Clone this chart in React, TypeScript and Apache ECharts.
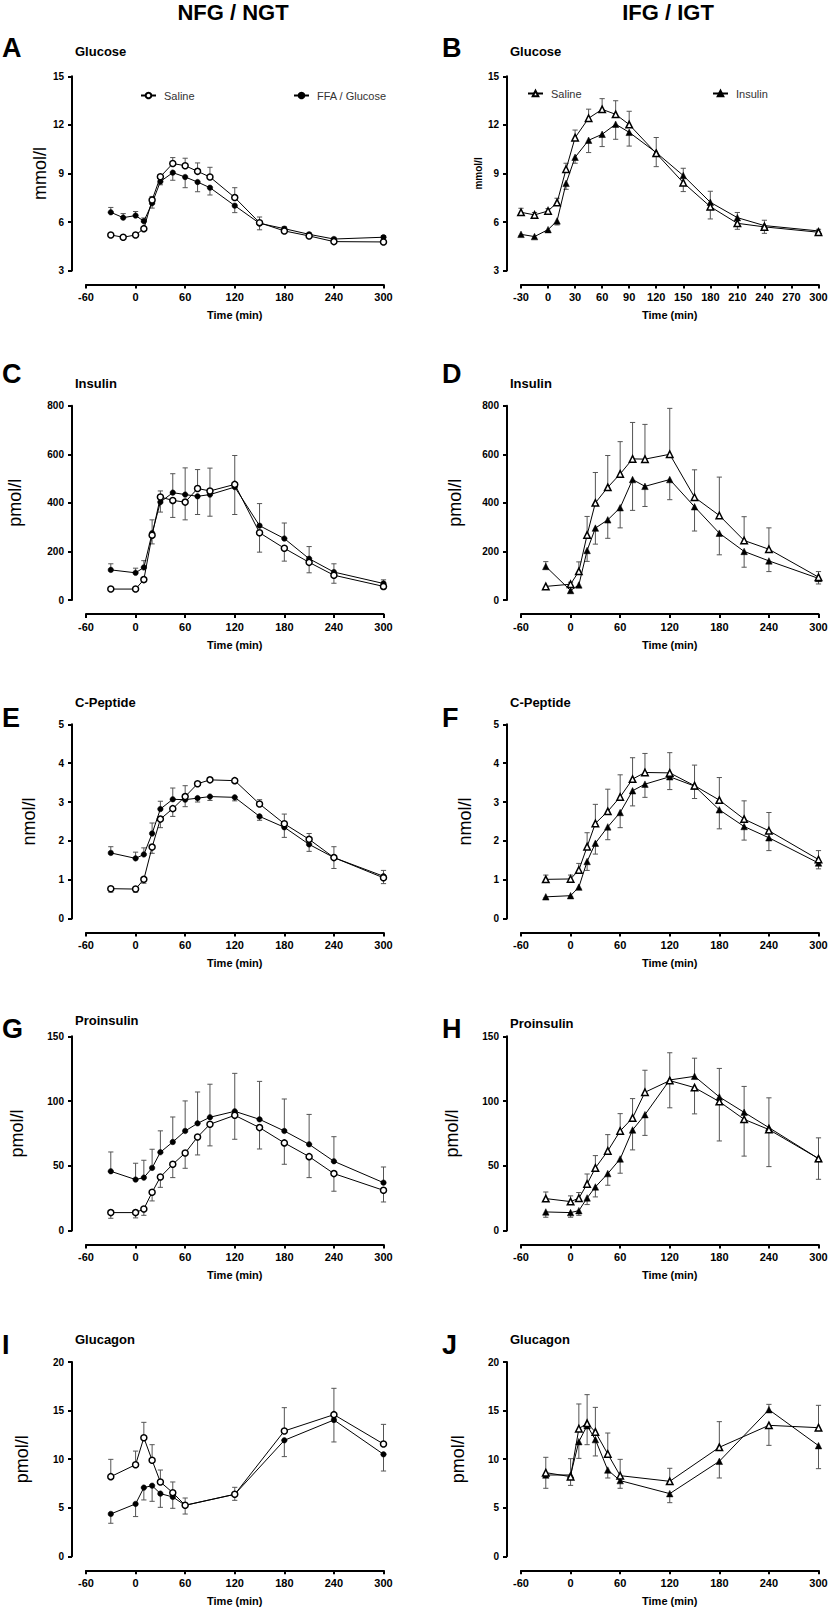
import React, { useEffect, useRef } from "react";
import * as echarts from "echarts";

// ---------- time points (min) ----------
const timeGlucose = [-30, -15, 0, 10, 20, 30, 45, 60, 75, 90, 120, 150, 180, 210, 240, 300];
const timeMain = [-30, 0, 10, 20, 30, 45, 60, 75, 90, 120, 150, 180, 210, 240, 300];
const timeGlucagon = [-30, 0, 10, 20, 30, 45, 60, 120, 180, 240, 300];

// ---------- tick labels ----------
const xTicks60 = [-60, 0, 60, 120, 180, 240, 300];
const xTicks30 = [-30, 0, 30, 60, 90, 120, 150, 180, 210, 240, 270, 300];
const yTicksGlucose = [3, 6, 9, 12, 15];
const yTicksInsulin = [0, 200, 400, 600, 800];
const yTicksCPeptide = [0, 1, 2, 3, 4, 5];
const yTicksProinsulin = [0, 50, 100, 150];
const yTicksGlucagon = [0, 5, 10, 15, 20];

// ---------- A: glucose NFG/NGT ----------
const glucNgtSaline = [5.2, 5.06, 5.2, 5.59, 7.36, 8.8, 9.61, 9.48, 9.13, 8.78, 7.51, 5.96, 5.45, 5.14, 4.79, 4.77];
const glucNgtSalineSem = [0.1, 0.1, 0.1, 0.1, 0.22, 0.12, 0.37, 0.46, 0.52, 0.6, 0.61, 0.35, 0.12, 0.1, 0.1, 0.1];
const glucNgtFfa = [6.6, 6.27, 6.4, 6.05, 7.16, 8.5, 9.05, 8.78, 8.47, 8.12, 7.01, 5.92, 5.59, 5.24, 4.95, 5.06];
const glucNgtFfaSem = [0.3, 0.25, 0.25, 0.2, 0.3, 0.2, 0.47, 0.66, 0.6, 0.45, 0.43, 0.4, 0.12, 0.1, 0.1, 0.1];

// ---------- B: glucose IFG/IGT ----------
const glucIgtSaline = [6.6, 6.44, 6.68, 7.2, 9.26, 11.21, 12.41, 12.96, 12.65, 12.02, 10.24, 8.43, 6.95, 5.92, 5.7, 5.37];
const glucIgtSalineSem = [0.25, 0.15, 0.15, 0.27, 0.37, 0.47, 0.56, 0.66, 0.84, 0.82, 0.82, 0.55, 0.76, 0.37, 0.4, 0.1];
const glucIgtIns = [5.24, 5.1, 5.53, 6.07, 8.39, 10.0, 11.05, 11.42, 12.04, 11.54, 10.29, 8.87, 7.22, 6.27, 5.78, 5.45];
const glucIgtInsSem = [0.1, 0.1, 0.1, 0.25, 0.37, 0.37, 0.76, 0.76, 0.93, 0.85, 0.93, 0.45, 0.68, 0.32, 0.33, 0.1];

// ---------- C: insulin NFG/NGT ----------
const insNgtSaline = [45, 45, 84, 267, 424, 410, 403, 459, 449, 476, 277, 213, 155, 102, 56];
const insNgtSalineSem = [5, 5, 10, 36, 25, 70, 73, 78, 94, 119, 80, 53, 43, 33, 11];
const insNgtFfa = [124, 112, 134, 275, 403, 442, 434, 427, 434, 465, 306, 253, 170, 115, 68];
const insNgtFfaSem = [25, 19, 28, 55, 41, 78, 110, 75, 89, 113, 91, 64, 50, 34, 15];

// ---------- D: insulin IFG/IGT ----------
const insIgtSaline = [56, 65, 118, 268, 400, 464, 519, 581, 580, 600, 423, 348, 245, 209, 94];
const insIgtSalineSem = [8, 8, 39, 76, 125, 131, 133, 150, 143, 189, 113, 158, 98, 88, 23];
const insIgtIns = [138, 39, 62, 204, 296, 330, 380, 496, 468, 496, 384, 275, 200, 161, 89];
const insIgtInsSem = [20, 10, 10, 45, 66, 76, 83, 127, 83, 83, 100, 89, 65, 44, 23];

// ---------- E: C-peptide NFG/NGT ----------
const cpNgtSaline = [0.77, 0.76, 1.01, 1.84, 2.56, 2.83, 3.14, 3.47, 3.57, 3.55, 2.95, 2.44, 2.04, 1.57, 1.05];
const cpNgtSalineSem = [0.09, 0.08, 0.1, 0.16, 0.22, 0.2, 0.28, 0.05, 0.05, 0.05, 0.11, 0.25, 0.15, 0.28, 0.15];
const cpNgtFfa = [1.69, 1.55, 1.65, 2.19, 2.82, 3.07, 3.06, 3.1, 3.14, 3.12, 2.63, 2.35, 1.91, 1.57, 1.09];
const cpNgtFfaSem = [0.16, 0.16, 0.17, 0.27, 0.2, 0.29, 0.18, 0.1, 0.1, 0.09, 0.1, 0.26, 0.18, 0.28, 0.15];

// ---------- F: C-peptide IFG/IGT ----------
const cpIgtSaline = [1.01, 1.02, 1.25, 1.85, 2.45, 2.76, 3.13, 3.59, 3.76, 3.75, 3.42, 3.05, 2.56, 2.26, 1.52];
const cpIgtSalineSem = [0.11, 0.1, 0.17, 0.36, 0.49, 0.57, 0.57, 0.55, 0.49, 0.52, 0.53, 0.58, 0.47, 0.47, 0.23];
const cpIgtIns = [0.56, 0.59, 0.81, 1.47, 1.94, 2.36, 2.73, 3.29, 3.46, 3.65, 3.41, 2.8, 2.37, 2.08, 1.43];
const cpIgtInsSem = [0.03, 0.03, 0.05, 0.23, 0.28, 0.33, 0.39, 0.39, 0.34, 0.33, 0.32, 0.49, 0.35, 0.33, 0.15];

// ---------- G: proinsulin NFG/NGT ----------
const proNgtSaline = [13.9, 13.9, 16.7, 29.6, 41.4, 51.2, 59.9, 72.3, 82.1, 89.0, 79.5, 67.7, 57.1, 44.0, 31.1];
const proNgtSalineSem = [4.4, 4.1, 4.9, 6.7, 8, 10.3, 11.8, 13.9, 16.7, 18.5, 16.5, 16.5, 16.2, 13.6, 9];
const proNgtFfa = [45.8, 39.4, 40.9, 48.4, 60.5, 68.4, 76.9, 82.8, 87.5, 92.1, 85.9, 76.9, 66.6, 53.5, 37.0];
const proNgtFfaSem = [14.9, 12.6, 13.4, 14.4, 16.5, 19.3, 23.2, 24.2, 25.5, 29.3, 29.3, 24.7, 23.1, 19, 12.1];

// ---------- H: proinsulin IFG/IGT ----------
const proIgtSaline = [24.7, 22.4, 25.0, 36.0, 48.4, 61.5, 76.9, 87.0, 106.8, 115.8, 110.4, 99.6, 85.9, 78.0, 55.6];
const proIgtSalineSem = [5.1, 4.4, 4.4, 7.7, 9.5, 12.6, 13.4, 14.9, 17, 21, 20.3, 30.4, 28.4, 28.6, 16];
const proIgtIns = [14.4, 13.9, 15.4, 25.2, 33.7, 44.0, 55.3, 77.7, 89.5, 116.3, 119.1, 103.2, 91.3, 79.5, 55.6];
const proIgtInsSem = [4.1, 3.6, 3.6, 5.1, 7.7, 9, 11, 15.4, 16, 21, 14, 22, 20, 23, 16];

// ---------- I: glucagon NFG/NGT ----------
const gcgNgtSaline = [8.2, 9.43, 12.21, 9.88, 7.65, 6.55, 5.25, 6.38, 12.9, 14.58, 11.56];
const gcgNgtSalineSem = [1.78, 1.4, 1.58, 1.61, 1.23, 1.1, 0.75, 0.72, 2.4, 2.71, 2.02];
const gcgNgtFfa = [4.36, 5.39, 7.07, 7.27, 6.45, 6.11, 5.25, 6.38, 11.94, 14.03, 10.5];
const gcgNgtFfaSem = [0.96, 1.3, 1.27, 1.61, 1.41, 1.17, 0.9, 0.62, 1.68, 2.26, 1.72];

// ---------- J: glucagon IFG/IGT ----------
const gcgIgtSaline = [8.61, 8.2, 13.14, 13.69, 12.8, 10.53, 8.3, 7.72, 11.22, 13.48, 13.24];
const gcgIgtSalineSem = [1.58, 0.9, 2.54, 2.95, 2.53, 2.16, 1.68, 1.34, 2.64, 2.06, 2.3];
const gcgIgtIns = [8.37, 8.37, 11.8, 13.45, 12.01, 8.88, 7.79, 6.45, 9.78, 15.09, 11.39];
const gcgIgtInsSem = [1.37, 1.68, 1.72, 1.96, 1.68, 0.82, 0.79, 0.93, 1.72, 0.55, 2.37];

// ---------- names ----------
const columnTitles = ["NFG / NGT", "IFG / IGT"];
const ctrlNames = ["Saline", "Saline (IFG / IGT)"];
const trtNames = ["FFA / Glucose", "Insulin"];

type Panel = {
  letter: string; col: number; row: number; title: string; yName: string;
  time: number[]; xTicks: number[]; yTicks: number[];
  ctrl: number[]; ctrlErr: number[]; trt: number[]; trtErr: number[];
};

const panels: Panel[] = [
  { letter: "A", col: 0, row: 0, title: "Glucose", yName: "mmol/l", time: timeGlucose, xTicks: xTicks60, yTicks: yTicksGlucose, ctrl: glucNgtSaline, ctrlErr: glucNgtSalineSem, trt: glucNgtFfa, trtErr: glucNgtFfaSem },
  { letter: "B", col: 1, row: 0, title: "Glucose", yName: "mmol/l", time: timeGlucose, xTicks: xTicks30, yTicks: yTicksGlucose, ctrl: glucIgtSaline, ctrlErr: glucIgtSalineSem, trt: glucIgtIns, trtErr: glucIgtInsSem },
  { letter: "C", col: 0, row: 1, title: "Insulin", yName: "pmol/l", time: timeMain, xTicks: xTicks60, yTicks: yTicksInsulin, ctrl: insNgtSaline, ctrlErr: insNgtSalineSem, trt: insNgtFfa, trtErr: insNgtFfaSem },
  { letter: "D", col: 1, row: 1, title: "Insulin", yName: "pmol/l", time: timeMain, xTicks: xTicks60, yTicks: yTicksInsulin, ctrl: insIgtSaline, ctrlErr: insIgtSalineSem, trt: insIgtIns, trtErr: insIgtInsSem },
  { letter: "E", col: 0, row: 2, title: "C-Peptide", yName: "nmol/l", time: timeMain, xTicks: xTicks60, yTicks: yTicksCPeptide, ctrl: cpNgtSaline, ctrlErr: cpNgtSalineSem, trt: cpNgtFfa, trtErr: cpNgtFfaSem },
  { letter: "F", col: 1, row: 2, title: "C-Peptide", yName: "nmol/l", time: timeMain, xTicks: xTicks60, yTicks: yTicksCPeptide, ctrl: cpIgtSaline, ctrlErr: cpIgtSalineSem, trt: cpIgtIns, trtErr: cpIgtInsSem },
  { letter: "G", col: 0, row: 3, title: "Proinsulin", yName: "pmol/l", time: timeMain, xTicks: xTicks60, yTicks: yTicksProinsulin, ctrl: proNgtSaline, ctrlErr: proNgtSalineSem, trt: proNgtFfa, trtErr: proNgtFfaSem },
  { letter: "H", col: 1, row: 3, title: "Proinsulin", yName: "pmol/l", time: timeMain, xTicks: xTicks60, yTicks: yTicksProinsulin, ctrl: proIgtSaline, ctrlErr: proIgtSalineSem, trt: proIgtIns, trtErr: proIgtInsSem },
  { letter: "I", col: 0, row: 4, title: "Glucagon", yName: "pmol/l", time: timeGlucagon, xTicks: xTicks60, yTicks: yTicksGlucagon, ctrl: gcgNgtSaline, ctrlErr: gcgNgtSalineSem, trt: gcgNgtFfa, trtErr: gcgNgtFfaSem },
  { letter: "J", col: 1, row: 4, title: "Glucagon", yName: "pmol/l", time: timeGlucagon, xTicks: xTicks60, yTicks: yTicksGlucagon, ctrl: gcgIgtSaline, ctrlErr: gcgIgtSalineSem, trt: gcgIgtIns, trtErr: gcgIgtInsSem },
];

// ---------- layout (pixels) ----------
const FONT = "'Liberation Sans', Arial, Helvetica, sans-serif";
const colLeft = [86, 521];
const rowTop = [76.3, 405.7, 724.3, 1036.3, 1362];
const GRID_W = 297.5;
const GRID_H = 194.3;
const AXIS_OFFSET = 14;
const letterY = [48, 374, 717.5, 1029, 1345];
const subtitleY = [[51.7, 51.7], [383.3, 383.3], [702.7, 702.7], [1020.7, 1023.3], [1339.3, 1339.3]];
const letterX = [2, 442];
const subtitleX = [75, 510];
const yNameGap: Record<string, number> = { A: 18, B: 24, C: 48, D: 43, E: 34, F: 33, G: 46, H: 46, I: 41, J: 40 };
const ERR_COLOR = "#555";
const CAP = 2.6;

function errorData(time: number[], own: number[], err: number[], other: number[], isCtrl: boolean) {
  return time.map((t, i) => {
    const up = own[i] > other[i] || (own[i] === other[i] && isCtrl);
    return [t, own[i], up ? own[i] + err[i] : own[i] - err[i]];
  });
}

function renderErr(_params: any, api: any) {
  const x = api.value(0);
  const m = api.value(1);
  const e = api.value(2);
  const p0 = api.coord([x, m]);
  const p1 = api.coord([x, e]);
  return {
    type: "group",
    children: [
      { type: "line", shape: { x1: p0[0], y1: p0[1], x2: p1[0], y2: p1[1] }, style: { stroke: ERR_COLOR, lineWidth: 1 } },
      { type: "line", shape: { x1: p1[0] - CAP, y1: p1[1], x2: p1[0] + CAP, y2: p1[1] }, style: { stroke: ERR_COLOR, lineWidth: 1 } },
    ],
  };
}

function buildOption() {
  const grid: any[] = [];
  const xAxis: any[] = [];
  const yAxis: any[] = [];
  const series: any[] = [];
  const graphic: any[] = [];

  panels.forEach((p, i) => {
    grid.push({ left: colLeft[p.col], top: rowTop[p.row], width: GRID_W, height: GRID_H, containLabel: false, outerBoundsMode: "none" });
    xAxis.push({
      gridIndex: i, type: "value",
      min: p.xTicks[0], max: p.xTicks[p.xTicks.length - 1], interval: p.xTicks[1] - p.xTicks[0],
      offset: AXIS_OFFSET,
      axisLine: { show: true, onZero: false, lineStyle: { color: "#000", width: 2 } },
      axisTick: { show: true, inside: false, length: 4, lineStyle: { color: "#000", width: 2 } },
      axisLabel: { color: "#000", fontFamily: FONT, fontWeight: "bold", fontSize: 11, margin: 7 },
      splitLine: { show: false },
      name: "Time (min)", nameLocation: "middle", nameGap: 25,
      nameTextStyle: { color: "#000", fontFamily: FONT, fontWeight: "bold", fontSize: 11 },
    });
    const smallName = p.letter === "B";
    yAxis.push({
      gridIndex: i, type: "value",
      min: p.yTicks[0], max: p.yTicks[p.yTicks.length - 1], interval: p.yTicks[1] - p.yTicks[0],
      offset: AXIS_OFFSET,
      axisLine: { show: true, onZero: false, lineStyle: { color: "#000", width: 2 } },
      axisTick: { show: true, inside: false, length: 4, lineStyle: { color: "#000", width: 2 } },
      axisLabel: { color: "#000", fontFamily: FONT, fontWeight: "bold", fontSize: 10, margin: 8 },
      splitLine: { show: false },
      name: p.yName, nameLocation: "middle", nameGap: yNameGap[p.letter],
      nameTextStyle: smallName
        ? { color: "#000", fontFamily: FONT, fontWeight: "bold", fontSize: 10 }
        : { color: "#000", fontFamily: FONT, fontWeight: "normal", fontSize: 18 },
    });

    const tri = p.col === 1;
    const ctrlName = ctrlNames[p.col];
    const trtName = trtNames[p.col];

    series.push({
      type: "custom", name: ctrlName + " SEM", xAxisIndex: i, yAxisIndex: i, z: 2, silent: true, clip: false,
      encode: { x: 0, y: [1, 2] },
      data: errorData(p.time, p.ctrl, p.ctrlErr, p.trt, true),
      renderItem: renderErr,
    });
    series.push({
      type: "custom", name: trtName + " SEM", xAxisIndex: i, yAxisIndex: i, z: 2, silent: true, clip: false,
      encode: { x: 0, y: [1, 2] },
      data: errorData(p.time, p.trt, p.trtErr, p.ctrl, false),
      renderItem: renderErr,
    });
    series.push({
      type: "line", name: trtName, xAxisIndex: i, yAxisIndex: i, z: 3,
      data: p.time.map((t, k) => [t, p.trt[k]]),
      symbol: tri ? "triangle" : "circle", symbolSize: tri ? 6.5 : 5.5, showAllSymbol: true,
      lineStyle: { color: "#000", width: 1 },
      itemStyle: { color: "#000", borderColor: "#000", borderWidth: 0.5 },
      emphasis: { disabled: true },
    });
    series.push({
      type: "line", name: ctrlName, xAxisIndex: i, yAxisIndex: i, z: 4,
      data: p.time.map((t, k) => [t, p.ctrl[k]]),
      symbol: tri ? "triangle" : "circle", symbolSize: tri ? 6.5 : 6, showAllSymbol: true,
      lineStyle: { color: "#000", width: 1 },
      itemStyle: { color: "#fff", borderColor: "#000", borderWidth: 1.5 },
      emphasis: { disabled: true },
    });

    graphic.push({
      type: "text", x: letterX[p.col], y: letterY[p.row],
      style: { text: p.letter, font: `bold 27px ${FONT}`, fill: "#000", align: "left", verticalAlign: "middle" },
    });
    graphic.push({
      type: "text", x: subtitleX[p.col], y: subtitleY[p.row][p.col],
      style: { text: p.title, font: `bold 13px ${FONT}`, fill: "#000", align: "left", verticalAlign: "middle" },
    });
  });

  graphic.push({
    type: "text", x: 233, y: 12,
    style: { text: columnTitles[0], font: `bold 22px ${FONT}`, fill: "#000", align: "center", verticalAlign: "middle" },
  });
  graphic.push({
    type: "text", x: 668, y: 12,
    style: { text: columnTitles[1], font: `bold 22px ${FONT}`, fill: "#000", align: "center", verticalAlign: "middle" },
  });

  const legendBase = {
    orient: "horizontal", itemWidth: 15, itemHeight: 7, selectedMode: false,
    textStyle: { color: "#333", fontFamily: FONT, fontSize: 11, padding: [0, 0, 0, 3] },
    formatter: (name: string) => name.replace(" (IFG / IGT)", ""),
  };
  const legend = [
    { ...legendBase, data: [ctrlNames[0]], left: 135, top: 85 },
    { ...legendBase, data: [trtNames[0]], left: 288, top: 85 },
    { ...legendBase, data: [ctrlNames[1]], left: 522, top: 83 },
    { ...legendBase, data: [trtNames[1]], left: 707, top: 83 },
  ];

  return { backgroundColor: "#fff", animation: false, grid, xAxis, yAxis, series, graphic, legend };
}

export default function App() {
  const ref = useRef<HTMLDivElement>(null);
  useEffect(() => {
    const chart = echarts.init(ref.current as HTMLDivElement, null, { renderer: "svg" });
    chart.setOption(buildOption() as any);
    return () => chart.dispose();
  }, []);
  return (
    <div
      ref={ref}
      style={{ position: "absolute", left: 0, top: 0, width: 830, height: 1610, background: "#fff" }}
    />
  );
}
